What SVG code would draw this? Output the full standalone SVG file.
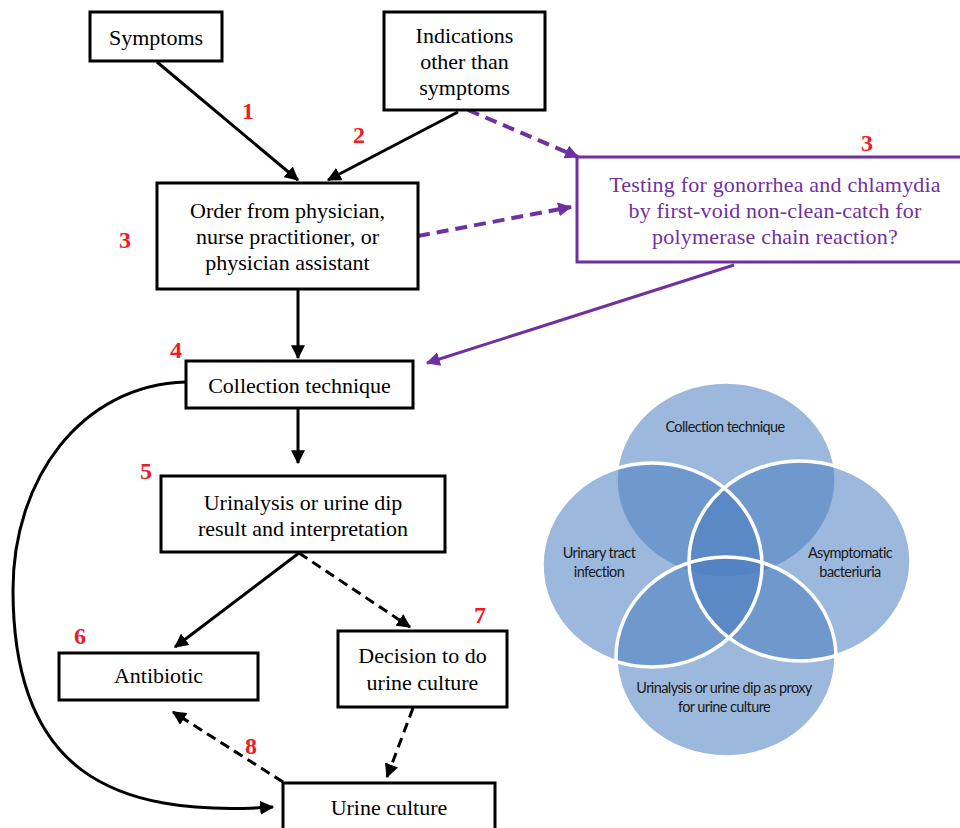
<svg xmlns="http://www.w3.org/2000/svg" width="960" height="828" viewBox="0 0 960 828">
<defs>
<style>
.box{fill:#fff;stroke:#000;stroke-width:3}
.pbox{fill:#fff;stroke:#7030A0;stroke-width:3}
.t{font-family:"Liberation Serif","Times New Roman",serif;font-size:22px;fill:#000;text-anchor:middle}
.pt{font-family:"Liberation Serif","Times New Roman",serif;font-size:22px;fill:#7030A0;text-anchor:middle;letter-spacing:0.2px}
.num{font-family:"Liberation Serif","Times New Roman",serif;font-size:24px;font-weight:bold;fill:#EE1C25;text-anchor:middle}
.c{fill:none;stroke:#000;stroke-width:3}
.d{stroke-dasharray:10 6}
.pc{fill:none;stroke:#7030A0;stroke-width:3}
.pd{stroke-width:4;stroke-dasharray:12 7}
.v{fill:#4A7EBF;fill-opacity:0.55}
.vs{fill:none;stroke:#fff;stroke-width:3.5}
.vt{font-family:Lato,"Open Sans",sans-serif;font-size:14.5px;fill:#1a1a1a;text-anchor:middle;letter-spacing:-0.6px}
</style>
<marker id="ah" viewBox="0 0 12 12" refX="11" refY="6" markerWidth="14" markerHeight="14" markerUnits="userSpaceOnUse" orient="auto">
<path d="M0,0 L12,6 L0,12 z" fill="#000"/>
</marker>
<marker id="ahp" viewBox="0 0 12 12" refX="11" refY="6" markerWidth="14" markerHeight="14" markerUnits="userSpaceOnUse" orient="auto">
<path d="M0,0 L12,6 L0,12 z" fill="#7030A0"/>
</marker>
</defs>
<rect width="960" height="828" fill="#fff"/>

<g id="connectors">
<path class="c" d="M157,62 L298,180" marker-end="url(#ah)"/>
<path class="c" d="M458,112 L328,180" marker-end="url(#ah)"/>
<path class="c" d="M298,289 L298,358" marker-end="url(#ah)"/>
<path class="c" d="M298,408 L298,463" marker-end="url(#ah)"/>
<path class="c" d="M299,553 L175,647" marker-end="url(#ah)"/>
<path class="c d" d="M299,553 L410,627" marker-end="url(#ah)"/>
<path class="c d" d="M413,708 L387,777" marker-end="url(#ah)"/>
<path class="c d" d="M283,782 L173,712" marker-end="url(#ah)"/>
<path class="c" d="M186,382 C80,385 13,480 13,590 C13,770 110,818 273,807" marker-end="url(#ah)"/>
<path class="pc pd" d="M468,110 L578,157" marker-end="url(#ahp)"/>
<path class="pc pd" d="M418,236 L571,207" marker-end="url(#ahp)"/>
<path class="pc" d="M734,265 L427,363" marker-end="url(#ahp)"/>
</g>

<g id="symptoms">
<rect class="box" x="90" y="12" width="132" height="49"/>
<text class="t" x="156" y="45">Symptoms</text>
</g>
<g id="indications">
<rect class="box" x="384" y="12" width="161" height="98"/>
<text class="t" x="464.5" y="43">Indications</text>
<text class="t" x="464.5" y="69">other than</text>
<text class="t" x="464.5" y="95">symptoms</text>
</g>
<g id="order">
<rect class="box" x="157" y="183" width="261" height="106"/>
<text class="t" x="287.5" y="218">Order from physician,</text>
<text class="t" x="287.5" y="244">nurse practitioner, or</text>
<text class="t" x="287.5" y="270">physician assistant</text>
</g>
<g id="testing">
<rect class="pbox" x="577" y="157" width="390" height="105"/>
<text class="pt" x="775" y="192">Testing for gonorrhea and chlamydia</text>
<text class="pt" x="775" y="218">by first-void non-clean-catch for</text>
<text class="pt" x="775" y="244">polymerase chain reaction?</text>
</g>
<g id="collection">
<rect class="box" x="186" y="361" width="227" height="47"/>
<text class="t" x="299.5" y="393">Collection technique</text>
</g>
<g id="urinalysis">
<rect class="box" x="161" y="476" width="284" height="76"/>
<text class="t" x="303" y="510">Urinalysis or urine dip</text>
<text class="t" x="303" y="536">result and interpretation</text>
</g>
<g id="antibiotic">
<rect class="box" x="59" y="653" width="199" height="47"/>
<text class="t" x="158.5" y="683">Antibiotic</text>
</g>
<g id="decision">
<rect class="box" x="338" y="631" width="169" height="76"/>
<text class="t" x="422.5" y="663">Decision to do</text>
<text class="t" x="422.5" y="690">urine culture</text>
</g>
<g id="urine-culture">
<rect class="box" x="283" y="783" width="212" height="50"/>
<text class="t" x="389" y="815">Urine culture</text>
</g>

<g id="step-numbers">
<text class="num" x="248" y="119">1</text>
<text class="num" x="359" y="143">2</text>
<text class="num" x="125" y="248">3</text>
<text class="num" x="867" y="151">3</text>
<text class="num" x="176" y="358">4</text>
<text class="num" x="146" y="479">5</text>
<text class="num" x="80" y="644">6</text>
<text class="num" x="480" y="623">7</text>
<text class="num" x="251" y="754">8</text>
</g>

<g id="venn">
<ellipse class="v" cx="726" cy="480" rx="110" ry="98"/>
<ellipse class="vs" cx="726" cy="480" rx="110" ry="98"/>
<ellipse class="v" cx="726" cy="657" rx="110" ry="100"/>
<ellipse class="v" cx="652" cy="565" rx="110" ry="102"/>
<ellipse class="v" cx="800" cy="561" rx="111" ry="100"/>
<ellipse class="vs" cx="800" cy="561" rx="111" ry="100"/>
<ellipse class="vs" cx="726" cy="657" rx="110" ry="100"/>
<ellipse class="vs" cx="652" cy="565" rx="110" ry="102"/>
<text class="vt" x="725" y="432">Collection technique</text>
<text class="vt" x="599" y="558">Urinary tract</text>
<text class="vt" x="599" y="577">infection</text>
<text class="vt" x="850" y="558">Asymptomatic</text>
<text class="vt" x="850" y="577">bacteriuria</text>
<text class="vt" x="724" y="693">Urinalysis or urine dip as proxy</text>
<text class="vt" x="724" y="712">for urine culture</text>
</g>
</svg>
